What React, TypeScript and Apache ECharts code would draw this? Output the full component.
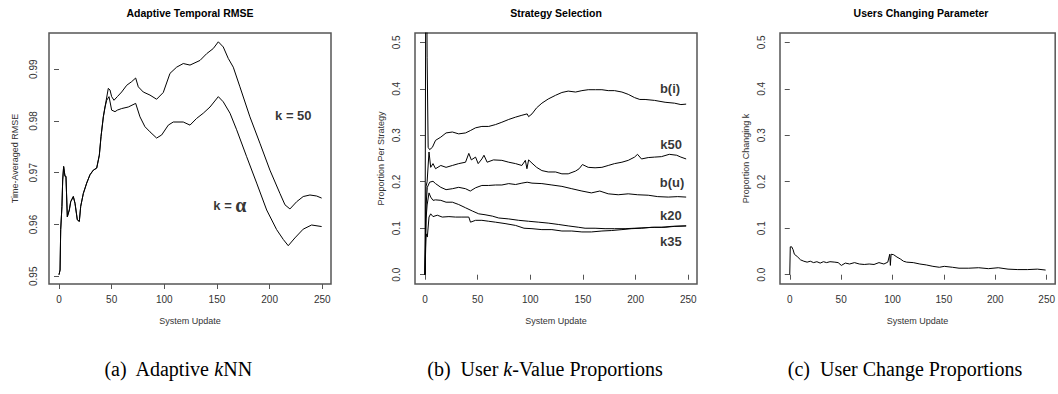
import React, { useEffect, useRef } from "react";
import * as echarts from "echarts";

// ---------- data ----------
const X_TICKS = [0, 50, 100, 150, 200, 250];
const RMSE_TICKS = [0.95, 0.96, 0.97, 0.98, 0.99];
const PROP_TICKS = [0, 0.1, 0.2, 0.3, 0.4, 0.5];

const PANEL_TITLES = ["Adaptive Temporal RMSE", "Strategy Selection", "Users Changing Parameter"];
const Y_NAMES = ["Time-Averaged RMSE", "Proportion Per Strategy", "Proportion Changing k"];
const X_NAME = "System Update";

// shared beginning of both RMSE curves
const rmseStart: [number, number][] = [
  [0, 0.9503], [1, 0.9512], [1.6, 0.959], [2.8, 0.9635], [3.5, 0.9686], [4.4, 0.9712],
  [5.7, 0.9693], [6.6, 0.9693], [7.9, 0.9615], [9.8, 0.9628], [11.1, 0.9644], [13.6, 0.9654],
  [15.2, 0.9641], [17.4, 0.9609], [19.3, 0.9606], [20.6, 0.9635], [23.1, 0.966], [26.3, 0.968],
  [29.4, 0.9696], [32.6, 0.9705], [35.8, 0.9709], [38.3, 0.9734], [39.9, 0.977], [42.1, 0.9808],
  [43.7, 0.9827],
];
const rmseK50Tail: [number, number][] = [
  [46.8, 0.9863], [48.4, 0.986], [50, 0.9847], [52.2, 0.984], [55.4, 0.9847], [59.5, 0.9856],
  [64.3, 0.9869], [69, 0.9876], [72.8, 0.9883], [75.3, 0.9866], [80, 0.9856], [86.4, 0.985],
  [92.7, 0.9842], [99, 0.9855], [105.4, 0.9892], [111.7, 0.9904], [118, 0.9911], [124.4, 0.9908],
  [133.9, 0.9917], [140.2, 0.993], [146.5, 0.994], [151.3, 0.9953], [156, 0.9943], [160.7, 0.9921],
  [165.5, 0.9904], [171.8, 0.9866], [181.3, 0.9808], [190.8, 0.9757], [200.3, 0.9705], [209.8, 0.966],
  [214.6, 0.9638], [219.3, 0.963], [225.7, 0.9644], [231.9, 0.9654], [238.3, 0.9657], [244.7, 0.9655],
  [249.4, 0.9651],
];
const rmseAlphaTail: [number, number][] = [
  [45.3, 0.984], [47.5, 0.9847], [50, 0.9821], [53.2, 0.9818], [55.4, 0.9821], [59.5, 0.9824],
  [65.8, 0.9827], [72.8, 0.9834], [76.9, 0.9808], [81.6, 0.9789], [86.4, 0.9779], [92.7, 0.9767],
  [97.5, 0.9773], [103.8, 0.9792], [108.5, 0.9798], [118, 0.9798], [124.4, 0.9792], [130.7, 0.9805],
  [137, 0.9815], [143.4, 0.9827], [151.3, 0.9847], [156, 0.9837], [162.4, 0.9815], [168.7, 0.9783],
  [178.2, 0.9731], [187.7, 0.968], [197.2, 0.9628], [206.7, 0.959], [213, 0.9571], [217.7, 0.9559],
  [224, 0.9574], [231.9, 0.9591], [239.9, 0.9599], [249.4, 0.9596],
];

const stratBI: [number, number][] = [
  [0, 0], [1, 0.9], [2, 0.468], [3, 0.274], [4.4, 0.269], [7, 0.274], [10, 0.289], [15, 0.296],
  [20, 0.305], [26, 0.307], [32, 0.303], [38.5, 0.305], [43, 0.31], [48, 0.316], [54, 0.319],
  [60.5, 0.319], [67, 0.323], [73, 0.328], [79.5, 0.334], [86, 0.339], [92, 0.343], [97, 0.346],
  [98.4, 0.34], [101.6, 0.346], [106, 0.359], [111, 0.369], [117, 0.378], [124, 0.386], [130, 0.392],
  [136, 0.395], [143, 0.393], [149, 0.396], [155, 0.398], [162, 0.398], [168, 0.398], [174, 0.396],
  [180, 0.396], [187, 0.393], [193, 0.388], [199, 0.381], [204, 0.377], [209, 0.377], [218, 0.375],
  [228, 0.371], [237, 0.369], [243, 0.366], [248, 0.367],
];
const stratK50: [number, number][] = [
  [0, 0], [1, 0.19], [2, 0.2], [3.8, 0.264], [5.4, 0.231], [7.6, 0.239], [10, 0.228], [15, 0.235],
  [20, 0.231], [26, 0.235], [32, 0.239], [38.5, 0.242], [41.6, 0.261], [44, 0.247], [48, 0.253],
  [50.5, 0.239], [54, 0.249], [56, 0.257], [59, 0.242], [65, 0.247], [73, 0.246], [79.5, 0.242],
  [86, 0.239], [92, 0.235], [95.3, 0.246], [96.8, 0.228], [98.4, 0.247], [101.6, 0.24], [106, 0.231],
  [111, 0.224], [117, 0.221], [124, 0.221], [130, 0.217], [136, 0.217], [143, 0.223], [146.4, 0.228],
  [149.5, 0.237], [155, 0.231], [161.5, 0.23], [168, 0.231], [174, 0.235], [180, 0.239], [187, 0.242],
  [193, 0.246], [199, 0.253], [201.8, 0.259], [205.6, 0.249], [212, 0.252], [218, 0.253],
  [224.5, 0.254], [232, 0.259], [239, 0.257], [243, 0.253], [248, 0.249],
];
const stratBU: [number, number][] = [
  [0, 0], [1, 0.15], [2.2, 0.188], [4.4, 0.199], [7.6, 0.201], [10, 0.196], [15, 0.188], [20, 0.183],
  [26, 0.185], [32, 0.188], [38.5, 0.185], [43, 0.18], [48, 0.187], [54, 0.192], [60.5, 0.192],
  [67, 0.193], [73, 0.193], [79.5, 0.196], [86, 0.194], [92, 0.197], [97, 0.199], [101.6, 0.197],
  [111, 0.196], [120.5, 0.193], [130, 0.19], [139.4, 0.185], [149, 0.18], [158, 0.176], [166, 0.18],
  [174, 0.174], [183.5, 0.172], [193, 0.174], [202, 0.172], [212, 0.171], [221, 0.168], [231, 0.167],
  [240, 0.168], [248, 0.167],
];
const stratK20: [number, number][] = [
  [0, 0], [1, 0.12], [2, 0.15], [3.8, 0.176], [5.4, 0.167], [7.6, 0.16], [10, 0.161], [15, 0.16],
  [20, 0.156], [26, 0.156], [32, 0.151], [38.5, 0.144], [45, 0.137], [51, 0.131], [57, 0.129],
  [64, 0.126], [70, 0.122], [79.5, 0.12], [89, 0.117], [98.4, 0.115], [108, 0.113], [117, 0.111],
  [127, 0.108], [136, 0.105], [146, 0.102], [152, 0.1], [161.5, 0.1], [171, 0.099], [180, 0.099],
  [190, 0.099], [199, 0.1], [209, 0.101], [218, 0.102], [228, 0.102], [237, 0.104], [248, 0.105],
];
const stratK35: [number, number][] = [
  [0, 0], [1, 0.088], [2.2, 0.081], [3.8, 0.124], [5.4, 0.131], [7.6, 0.125], [11.7, 0.128],
  [16.4, 0.124], [22.7, 0.125], [29, 0.124], [35, 0.124], [41.6, 0.124], [43.2, 0.113], [48, 0.117],
  [54, 0.117], [60.5, 0.115], [67, 0.113], [76, 0.11], [86, 0.106], [94, 0.1], [101.6, 0.099],
  [111, 0.097], [120.5, 0.097], [130, 0.094], [139.4, 0.094], [149, 0.092], [158, 0.092], [168, 0.094],
  [177, 0.095], [187, 0.097], [196, 0.099], [205.6, 0.1], [215, 0.102], [224.5, 0.102], [234, 0.104],
  [248, 0.105],
];

const changingK: [number, number][] = [
  [0, 0], [0.5, 0.06], [1.9, 0.06], [3.2, 0.054], [4.5, 0.044], [7.3, 0.039], [10.5, 0.032],
  [13.7, 0.029], [16.9, 0.027], [20, 0.029], [23.2, 0.026], [26.4, 0.028], [29.6, 0.025], [32.8, 0.028],
  [35.9, 0.026], [39.1, 0.028], [43.9, 0.027], [47.1, 0.026], [50.2, 0.02], [54.1, 0.025], [58.2, 0.023],
  [63, 0.026], [67.7, 0.023], [72.5, 0.022], [77.3, 0.023], [82, 0.022], [86.8, 0.026], [91.6, 0.023],
  [95.4, 0.027], [97.3, 0.044], [97.9, 0.02], [98.6, 0.044], [101.1, 0.043], [104.3, 0.038],
  [107.5, 0.034], [110.7, 0.029], [113.8, 0.027], [120.2, 0.026], [126.6, 0.023], [132.9, 0.021],
  [139.3, 0.018], [145.6, 0.016], [150.4, 0.018], [158.3, 0.016], [164.7, 0.014], [174.2, 0.014],
  [183.8, 0.015], [193.3, 0.013], [202.9, 0.015], [212.4, 0.012], [221.9, 0.011], [231.5, 0.011],
  [241, 0.012], [249, 0.01],
];

// label anchors (data coordinates)
const rmseLabels = [
  { name: "k50", value: [222.5, 0.981] },
  { name: "alpha", value: [162.3, 0.9636] },
];
const stratLabels = [
  { name: "b(i)", value: [232.7, 0.4] },
  { name: "k50", value: [233.7, 0.281] },
  { name: "b(u)", value: [234.6, 0.199] },
  { name: "k20", value: [233.4, 0.128] },
  { name: "k35", value: [233.4, 0.071] },
];

const CAPTIONS = [
  { pre: "(a)  Adaptive ", it: "k", post: "NN", x: 178 },
  { pre: "(b)  User ", it: "k", post: "-Value Proportions", x: 545 },
  { pre: "(c)  User Change Proportions", it: "", post: "", x: 905 },
];

// ---------- layout ----------
const SANS = "'Liberation Sans', Arial, Helvetica, sans-serif";
const SERIF = "'Liberation Serif', 'Times New Roman', serif";
const GRID_LEFTS = [49, 415, 780];
const GRID_TOP = 33;
const GRID_W = 282;
const GRID_H = 251;
const BOX = "#555555";
const X_RANGE = [-9.5, 258.3];
const Y_RANGES = [[0.9485, 0.997], [-0.02, 0.52], [-0.02, 0.52]];

export default function App() {
  const ref = useRef<HTMLDivElement>(null);

  useEffect(() => {
    if (!ref.current) return;
    const chart = echarts.init(ref.current, undefined, { renderer: "svg" });

    // each grid draws its own frame (R's box())
    const grids = GRID_LEFTS.map((left) => ({
      left,
      top: GRID_TOP,
      width: GRID_W,
      height: GRID_H,
      show: true,
      borderColor: BOX,
      borderWidth: 1.5,
      backgroundColor: "rgba(255,255,255,0)",
      containLabel: false,
    }));

    const xAxes: any[] = [0, 1, 2].map((i) => ({
      type: "value",
      gridIndex: i,
      position: "bottom",
      min: X_RANGE[0],
      max: X_RANGE[1],
      axisLine: { show: false },
      splitLine: { show: false },
      axisTick: { show: true, customValues: X_TICKS, length: 5, lineStyle: { color: BOX, width: 1 } },
      axisLabel: {
        customValues: X_TICKS,
        margin: 10,
        fontSize: 10,
        color: "#333",
        fontFamily: SANS,
      },
      name: X_NAME,
      nameLocation: "middle",
      nameGap: 32,
      nameTextStyle: { fontSize: 9, color: "#333", fontFamily: SANS },
    }));

    const yAxes: any[] = [0, 1, 2].map((i) => {
      const isRmse = i === 0;
      const ticks = isRmse ? RMSE_TICKS : PROP_TICKS;
      return {
        type: "value",
        gridIndex: i,
        position: "left",
        min: Y_RANGES[i][0],
        max: Y_RANGES[i][1],
        axisLine: { show: false },
        splitLine: { show: false },
        axisTick: { show: true, customValues: ticks, length: 5, lineStyle: { color: BOX, width: 1 } },
        axisLabel: {
          customValues: ticks,
          rotate: 90,
          margin: isRmse ? 11 : 14,
          fontSize: 10,
          color: "#333",
          fontFamily: SANS,
          formatter: (v: number) => (isRmse ? v.toFixed(2) : v.toFixed(1)),
        },
        name: Y_NAMES[i],
        nameLocation: "middle",
        nameRotate: 90,
        nameGap: 30,
        nameTextStyle: { fontSize: 9, color: "#333", fontFamily: SANS },
      };
    });

    const lineSeries = (data: [number, number][], gi: number) => ({
      type: "line",
      xAxisIndex: gi,
      yAxisIndex: gi,
      data,
      showSymbol: false,
      symbol: "none",
      clip: true,
      silent: true,
      lineStyle: { color: "#000", width: 1 },
    });

    const labelSeries = (data: any[], gi: number, formatter: any) => ({
      type: "scatter",
      xAxisIndex: gi,
      yAxisIndex: gi,
      data,
      symbolSize: 1,
      itemStyle: { color: "rgba(0,0,0,0)" },
      silent: true,
      label: {
        show: true,
        position: "inside",
        formatter,
        color: "#000",
        fontSize: 13,
        fontWeight: "bold",
        fontFamily: SANS,
        rich: {
          b: { fontSize: 13, fontWeight: "bold", fontFamily: SANS, color: "#000" },
          a: { fontSize: 20, fontFamily: SERIF, color: "#000", padding: [0, 0, 2, 0] },
        },
      },
    });

    const graphic: any[] = [];
    PANEL_TITLES.forEach((t, i) => {
      graphic.push({
        type: "text",
        x: GRID_LEFTS[i] + GRID_W / 2,
        y: 13,
        silent: true,
        style: {
          text: t,
          align: "center",
          verticalAlign: "middle",
          fontSize: 10.5,
          fontWeight: "bold",
          fontFamily: SANS,
          fill: "#000",
        },
      });
    });
    CAPTIONS.forEach((c) => {
      let text = `{n|${c.pre}}`;
      if (c.it) text += `{i|${c.it}}`;
      if (c.post) text += `{n|${c.post}}`;
      graphic.push({
        type: "text",
        x: c.x,
        y: 369,
        silent: true,
        style: {
          text,
          align: "center",
          verticalAlign: "middle",
          fill: "#000",
          rich: {
            n: { fontSize: 20, fontFamily: SERIF, fill: "#000" },
            i: { fontSize: 20, fontFamily: SERIF, fontStyle: "italic", fill: "#000" },
          },
        },
      });
    });

    chart.setOption({
      animation: false,
      backgroundColor: "#fff",
      grid: grids,
      xAxis: xAxes,
      yAxis: yAxes,
      graphic,
      series: [
        lineSeries([...rmseStart, ...rmseK50Tail], 0),
        lineSeries([...rmseStart, ...rmseAlphaTail], 0),
        labelSeries(rmseLabels, 0, (p: any) => (p.name === "alpha" ? "{b|k = }{a|α}" : "{b|k = 50}")),
        lineSeries(stratBI, 1),
        lineSeries(stratK50, 1),
        lineSeries(stratBU, 1),
        lineSeries(stratK20, 1),
        lineSeries(stratK35, 1),
        labelSeries(stratLabels, 1, (p: any) => `{b|${p.name}}`),
        lineSeries(changingK, 2),
      ],
    });

    return () => chart.dispose();
  }, []);

  return (
    <div
      ref={ref}
      style={{ position: "fixed", left: 0, top: 0, width: 1058, height: 394, background: "#fff" }}
    />
  );
}
